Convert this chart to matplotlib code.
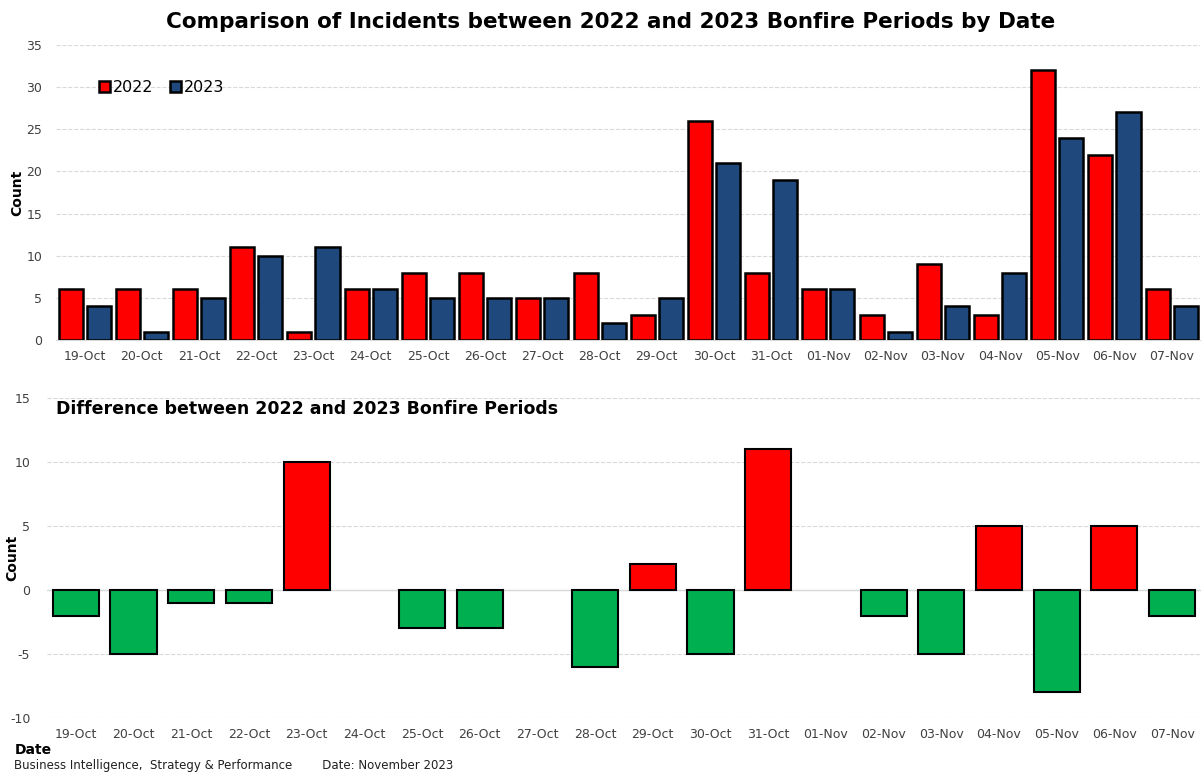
import matplotlib
matplotlib.use("Agg")
import matplotlib.pyplot as plt
import numpy as np

# dane
daty = ['19-Oct', '20-Oct', '21-Oct', '22-Oct', '23-Oct', '24-Oct', '25-Oct', '26-Oct',
        '27-Oct', '28-Oct', '29-Oct', '30-Oct', '31-Oct', '01-Nov', '02-Nov', '03-Nov',
        '04-Nov', '05-Nov', '06-Nov', '07-Nov']
incydenty_2022 = [6, 6, 6, 11, 1, 6, 8, 8, 5, 8, 3, 26, 8, 6, 3, 9, 3, 32, 22, 6]
incydenty_2023 = [4, 1, 5, 10, 11, 6, 5, 5, 5, 2, 5, 21, 19, 6, 1, 4, 8, 24, 27, 4]
roznica = [-2, -5, -1, -1, 10, 0, -3, -3, 0, -6, 2, -5, 11, 0, -2, -5, 5, -8, 5, -2]

CZERWONY = '#FF0000'
NIEBIESKI = '#1F497D'
ZIELONY = '#00B050'
SZARY_TXT = '#404040'

plt.rcParams['font.family'] = ['DejaVu Sans']
plt.rcParams['axes.unicode_minus'] = False

fig = plt.figure(figsize=(12.02, 7.72), dpi=100)
ax1 = fig.add_axes([0.0466, 0.5596, 0.952, 0.3821])
ax2 = fig.add_axes([0.0391, 0.0699, 0.960, 0.4146])

x = np.arange(len(daty))

# --- wykres górny ---
szer = 0.42
ax1.bar(x - 0.245, incydenty_2022, szer, color=CZERWONY, edgecolor='black', linewidth=1.8,
        label='2022', zorder=3)
ax1.bar(x + 0.245, incydenty_2023, szer, color=NIEBIESKI, edgecolor='black', linewidth=1.8,
        label='2023', zorder=3)
ax1.set_xlim(-0.5, len(daty) - 0.5)
ax1.set_ylim(0, 35)
ax1.set_yticks(range(0, 36, 5))
ax1.set_xticks(x)
ax1.set_xticklabels(daty)
ax1.set_ylabel('Count', fontsize=10, fontweight='bold')
ax1.yaxis.set_label_coords(-0.028, 0.5)
ax1.grid(axis='y', linestyle='--', color='#D9D9D9', linewidth=0.8, zorder=0)
for s in ['top', 'right', 'left']:
    ax1.spines[s].set_visible(False)
ax1.spines['bottom'].set_color('#D9D9D9')
ax1.tick_params(axis='both', length=0, labelsize=9, colors=SZARY_TXT, pad=7)
ax1.tick_params(axis='y', pad=10)
ax1.legend(loc='upper left', bbox_to_anchor=(0.025, 0.93), ncol=2, frameon=False,
           fontsize=11.5, handlelength=0.7, handleheight=0.7, handletextpad=0.2,
           columnspacing=1.0)

fig.text(0.508, 0.972, 'Comparison of Incidents between 2022 and 2023 Bonfire Periods by Date',
         ha='center', va='center', fontsize=15.5, fontweight='bold')

# --- wykres dolny ---
kolory = [CZERWONY if v > 0 else ZIELONY for v in roznica]
grubosci = [1.5 if v != 0 else 0 for v in roznica]
ax2.bar(x, roznica, 0.8, color=kolory, edgecolor='black', linewidth=grubosci, zorder=3)
ax2.set_xlim(-0.5, len(daty) - 0.5)
ax2.set_ylim(-10, 15)
ax2.set_yticks(range(-10, 16, 5))
ax2.set_xticks(x)
ax2.set_xticklabels(daty)
ax2.set_ylabel('Count', fontsize=10, fontweight='bold')
ax2.yaxis.set_label_coords(-0.024, 0.5)
ax2.grid(axis='y', linestyle='--', color='#D9D9D9', linewidth=0.8, zorder=0)
ax2.axhline(0, color='#D9D9D9', linewidth=1, zorder=1)
for s in ax2.spines.values():
    s.set_visible(False)
ax2.tick_params(axis='both', length=0, labelsize=9, colors=SZARY_TXT, pad=7)
ax2.tick_params(axis='y', pad=12)
ax2.text(0.008, 0.965, 'Difference between 2022 and 2023 Bonfire Periods',
         transform=ax2.transAxes, ha='left', va='center', fontsize=12.5, fontweight='bold')

fig.text(0.012, 0.028, 'Date', ha='left', va='center', fontsize=10, fontweight='bold')
fig.text(0.012, 0.008, 'Business Intelligence,  Strategy & Performance        Date: November 2023',
         ha='left', va='center', fontsize=8.5, color='#202020')

fig.savefig('out.png', dpi=100)
plt.close(fig)
